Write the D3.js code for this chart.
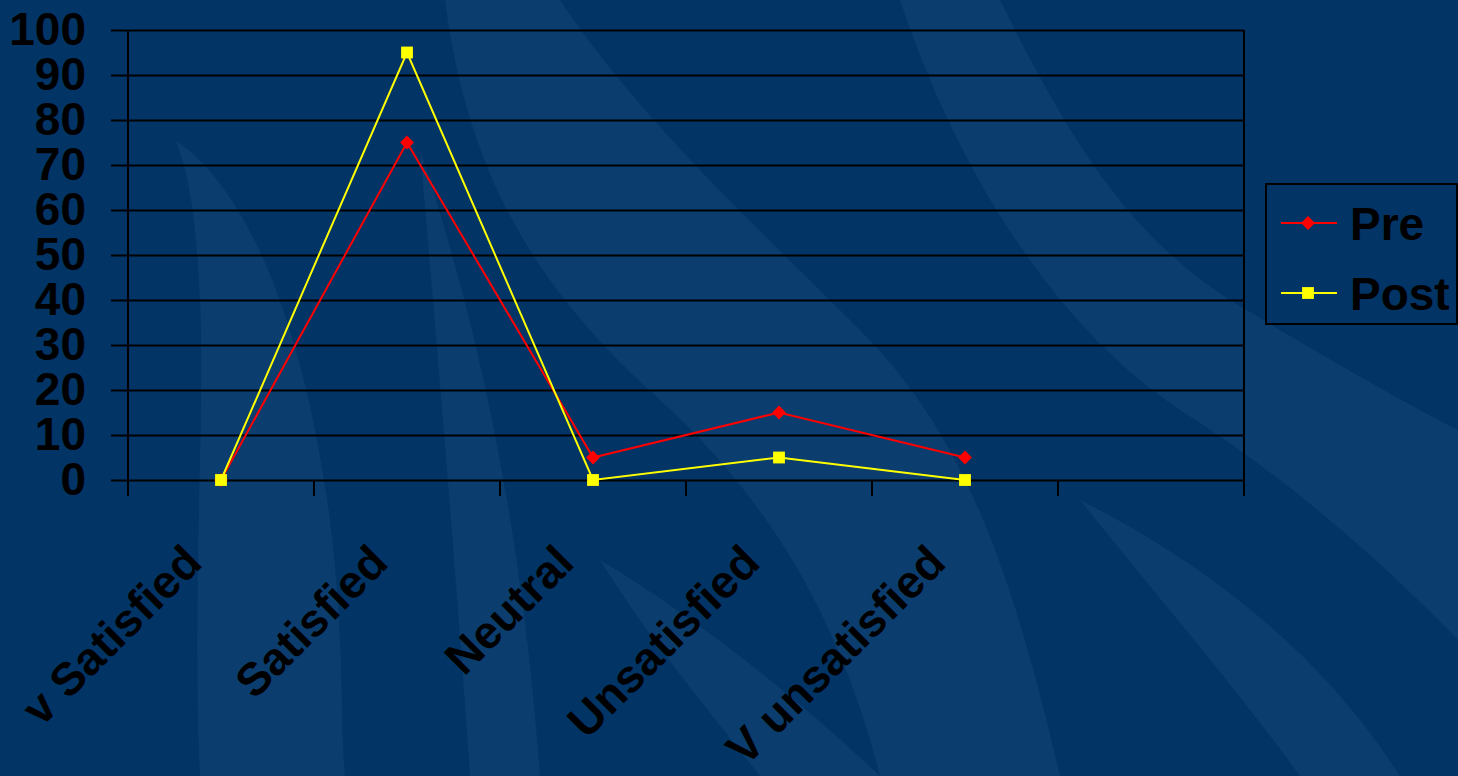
<!DOCTYPE html>
<html>
<head>
<meta charset="utf-8">
<script src="https://cdn.jsdelivr.net/npm/d3@7"></script>
<style>
  html, body { margin: 0; padding: 0; background: #023466; overflow: hidden; }
  svg { display: block; font-family: 'Liberation Sans', Arial, sans-serif; font-weight: bold; }
</style>
</head>
<body>
<div id="chart"></div>
<script>
var categories = ['v Satisfied', 'Satisfied', 'Neutral', 'Unsatisfied', 'V unsatisfied', ''];
var preValues = [0, 75, 5, 15, 5];
var postValues = [0, 95, 0, 5, 0];
var yTicks = [0, 10, 20, 30, 40, 50, 60, 70, 80, 90, 100];
var seriesNames = ['Pre', 'Post'];

var W = 1458, H = 776;
var m = { left: 128, right: 214, top: 30, bottom: 296 };

var svg = d3.select('#chart').append('svg')
  .attr('width', W)
  .attr('height', H);

// background with soft waves
svg.append('rect').attr('width', W).attr('height', H).attr('fill', '#023466');
var waves = svg.append('g').attr('fill', '#0f4272').attr('opacity', 0.7);
waves.append('path').attr('d', 'M175,140 C250,190 305,330 330,520 C345,640 340,720 345,776 L200,776 C192,600 205,420 200,300 C196,220 190,175 175,140 Z');
waves.append('path').attr('d', 'M445,0 L560,0 C640,120 760,230 860,330 C960,430 1010,560 1060,776 L880,776 C840,620 770,500 660,400 C560,310 470,200 445,0 Z');
waves.append('path').attr('d', 'M420,150 C470,300 520,500 540,776 L470,776 C455,560 440,380 420,150 Z');
waves.append('path').attr('d', 'M900,0 L1000,0 C1060,120 1120,230 1230,300 C1330,360 1400,400 1458,430 L1458,640 C1380,560 1290,480 1180,410 C1060,330 960,180 900,0 Z');
waves.append('path').attr('d', 'M600,560 C700,620 800,700 880,776 L760,776 C700,700 650,640 600,560 Z');
waves.append('path').attr('d', 'M1080,500 C1200,560 1320,650 1400,776 L1300,776 C1230,680 1160,600 1080,500 Z');

var x = d3.scaleBand()
  .domain(categories)
  .range([m.left, W - m.right])
  .padding(0);

var y = d3.scaleLinear()
  .domain([0, 100])
  .range([H - m.bottom, m.top]);

// gridlines + y labels
var yAxis = d3.axisLeft(y)
  .tickValues(yTicks)
  .tickSizeInner(-(W - m.right - (m.left - 17)))
  .tickSizeOuter(0)
  .tickPadding(25);

var gy = svg.append('g')
  .attr('class', 'yaxis')
  .attr('transform', 'translate(' + (m.left - 17) + ',0)')
  .call(yAxis);
gy.select('.domain').remove();
gy.selectAll('line').attr('stroke', '#000').attr('stroke-width', 2);
gy.selectAll('text')
  .attr('fill', '#000')
  .attr('font-size', 46)
  .attr('font-weight', 'bold')
  .attr('font-family', "'Liberation Sans', Arial, sans-serif");

// left and right borders
[m.left, W - m.right].forEach(function (xx) {
  svg.append('line')
    .attr('x1', xx).attr('x2', xx)
    .attr('y1', y(100)).attr('y2', y(0) + 16)
    .attr('stroke', '#000').attr('stroke-width', 2);
});

// x ticks at band edges
var edges = categories.map(function (c) { return x(c); });
svg.append('g').attr('class', 'xticks')
  .selectAll('line')
  .data(edges)
  .enter().append('line')
  .attr('x1', function (d) { return d; })
  .attr('x2', function (d) { return d; })
  .attr('y1', y(0))
  .attr('y2', y(0) + 16)
  .attr('stroke', '#000')
  .attr('stroke-width', 2);

// x labels
svg.append('g').attr('class', 'xlabels')
  .selectAll('text')
  .data(categories)
  .enter().append('text')
  .attr('transform', function (d) {
    return 'translate(' + (x(d) + x.bandwidth() / 2 - 17) + ',' + (y(0) + 85) + ') rotate(-45)';
  })
  .attr('text-anchor', 'end')
  .attr('font-size', 46)
  .attr('fill', '#000')
  .text(function (d) { return d; });

var cx = function (d, i) { return x(categories[i]) + x.bandwidth() / 2; };
var line = d3.line()
  .x(cx)
  .y(function (d) { return y(d); });

var series = [
  { name: seriesNames[0], values: preValues, color: '#ff0000', symbol: d3.symbolSquare, size: 95, rot: 45 },
  { name: seriesNames[1], values: postValues, color: '#ffff00', symbol: d3.symbolSquare, size: 140, rot: 0 }
];

series.forEach(function (s) {
  svg.append('path')
    .datum(s.values)
    .attr('fill', 'none')
    .attr('stroke', s.color)
    .attr('stroke-width', 2)
    .attr('d', line);
  svg.append('g').selectAll('path')
    .data(s.values)
    .enter().append('path')
    .attr('d', d3.symbol().type(s.symbol).size(s.size))
    .attr('transform', function (d, i) {
      return 'translate(' + cx(d, i) + ',' + y(d) + ') rotate(' + s.rot + ')';
    })
    .attr('fill', s.color);
});

// legend
var lg = svg.append('g').attr('class', 'legend');
lg.append('rect')
  .attr('x', 1266).attr('y', 184)
  .attr('width', 191).attr('height', 140)
  .attr('fill', 'none')
  .attr('stroke', '#000')
  .attr('stroke-width', 2);

series.forEach(function (s, i) {
  var ly = 223 + i * 70;
  lg.append('line')
    .attr('x1', 1281).attr('x2', 1337)
    .attr('y1', ly).attr('y2', ly)
    .attr('stroke', s.color).attr('stroke-width', 2);
  lg.append('path')
    .attr('d', d3.symbol().type(s.symbol).size(s.size))
    .attr('transform', 'translate(1308,' + ly + ') rotate(' + s.rot + ')')
    .attr('fill', s.color);
  lg.append('text')
    .attr('x', 1350)
    .attr('y', ly + 17)
    .attr('font-size', 46)
    .attr('fill', '#000')
    .text(s.name);
});
</script>
</body>
</html>
